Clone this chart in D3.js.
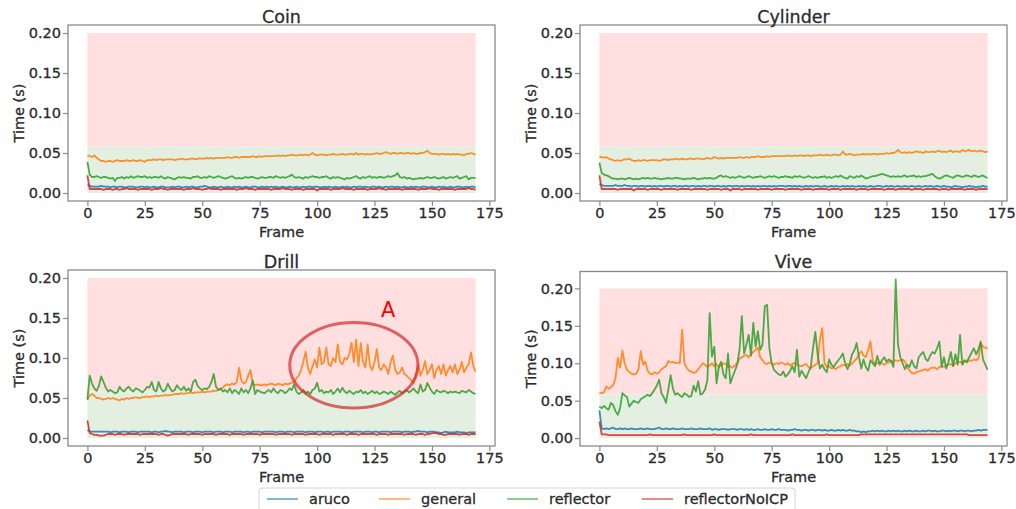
<!DOCTYPE html>
<html><head><meta charset="utf-8">
<script src="https://cdn.jsdelivr.net/npm/d3@7"></script>
<style>body{margin:0;background:#fff}svg{display:block}text{font-family:"DejaVu Sans",sans-serif;fill:#2b2b2b;stroke:#2b2b2b;stroke-width:0.3px}</style>
</head><body><svg id="c" width="1016" height="509"></svg>
<script>
const seriesNames = ["aruco","general","reflector","reflectorNoICP"];
const seriesColors = ["#1f77b4","#ff7f0e","#2ca02c","#d62728"];
const panelTitles = ["Coin","Cylinder","Drill","Vive"];
const xTickValues = [0,25,50,75,100,125,150,175];
const yTickValues = [0,0.05,0.1,0.15,0.2];
const yTickLabels = ["0.00","0.05","0.10","0.15","0.20"];
const okBand = [0, 0.058];
const slowBand = [0.058, 0.2];
const bandFrames = [0, 169];
const xLabel = "Frame", yLabel = "Time (s)";
// all series values in milliseconds, one per frame (0..169)
const coinAruco = [10,9,8,8,8,8,9,8,8,8, 7,8,8,7,8,8,7,7,8,8, 8,7,7,8,8,7,8,7,7,8, 7,7,8,8,7,7,7,8,7,8, 8,7,7,8,7,8,8,7,7,8, 8,9,8,7,7,8,7,7,8,7, 7,8,7,7,8,7,8,7,7,8, 7,7,8,8,7,7,8,7,8,7, 8,7,8,7,7,8,7,7,8,7, 7,8,7,7,8,7,8,8,7,8, 8,7,7,8,7,8,7,7,8,7, 7,8,7,8,7,7,8,7,8,8, 7,8,7,7,8,8,7,8,7,7, 8,7,8,8,7,8,7,7,8,7, 7,8,7,8,7,7,8,8,7,7, 8,7,7,8,7,8,7,7,8,7, 7,8,8,7,7,8,7,8,8,7];
const coinGeneral = [47,46,45,47,44,42,40,40,39,40, 40,39,40,41,40,40,40,41,40,40, 41,40,40,41,40,39,41,41,41,42, 41,42,42,41,42,42,42,42,41,42, 42,43,42,42,42,43,43,42,43,43, 43,43,44,43,44,43,44,44,44,44, 44,45,44,44,45,45,44,45,45,45, 45,45,46,45,45,46,45,46,46,46, 46,46,46,47,46,47,46,47,47,48, 47,47,47,48,47,48,47,48,50,48, 47,48,48,48,47,48,48,49,48,48, 48,49,48,48,49,49,48,50,48,49, 49,48,49,48,49,49,50,49,49,50, 51,50,49,50,50,49,50,50,49,50, 50,49,50,49,49,50,50,51,53,50, 49,49,49,48,49,49,48,49,48,49, 48,49,48,48,47,49,49,50,49,48];
const coinReflector = [39,23,20,20,21,20,19,20,20,19, 18,19,15,19,19,20,18,20,19,21, 19,20,21,20,20,21,19,20,19,20, 20,19,21,19,18,20,19,18,17,19, 20,19,20,19,19,18,20,20,21,19, 19,20,19,21,20,19,20,21,20,19, 18,19,20,21,19,18,19,18,19,20, 19,20,20,19,18,19,20,19,19,20, 20,19,21,20,19,20,19,20,21,23, 20,19,20,19,18,20,19,20,21,20, 20,19,20,20,21,19,18,20,19,20, 19,18,17,19,18,19,20,21,19,18, 20,19,20,21,19,20,19,20,20,19, 20,21,20,21,22,25,20,19,20,18, 19,18,17,18,18,19,18,19,20,19, 19,20,19,18,19,20,18,19,20,19, 20,21,18,19,20,21,17,19,19,19];
const coinNoICP = [22,5,5,5,5,5,5,4,5,5, 5,4,5,5,4,5,5,6,5,5, 5,5,4,5,5,5,5,5,4,5, 5,5,6,5,5,4,5,5,5,5, 5,5,4,5,5,5,6,5,5,5, 4,5,5,6,5,5,5,5,4,5, 5,5,5,5,5,4,5,5,5,6, 5,5,5,4,5,5,5,5,5,5, 4,5,5,5,5,6,5,5,5,4, 5,5,5,5,4,5,5,5,5,5, 3,5,5,5,5,5,4,5,5,5, 5,6,5,5,5,5,4,5,5,5, 5,5,4,5,5,5,5,6,5,5, 4,5,5,5,5,5,5,4,5,5, 5,5,5,5,4,5,5,5,5,6, 5,5,5,4,5,5,5,5,5,5, 4,5,5,5,5,5,6,5,5,4];
const cylAruco = [11,10,9,9,9,9,9,10,9,9, 9,10,9,9,8,9,9,8,9,9, 8,9,9,8,9,8,9,9,8,9, 9,8,9,9,8,9,8,9,9,8, 9,9,8,9,8,9,9,8,9,9, 8,9,9,8,9,8,9,9,8,9, 9,8,9,8,9,9,8,9,8,9, 8,9,9,8,9,8,9,8,9,9, 9,8,9,9,8,9,8,9,8,8, 9,8,9,8,9,9,8,8,9,8, 8,9,8,9,8,8,9,8,9,8, 9,8,8,9,8,9,8,8,9,8, 8,9,9,8,8,9,8,9,8,8, 9,8,8,9,8,8,9,8,8,9, 8,8,9,8,9,8,8,9,8,8, 9,8,8,7,8,9,8,8,7,8, 8,9,8,8,7,8,8,9,8,8];
const cylGeneral = [45,45,44,45,43,42,41,40,41,40, 41,42,42,43,41,40,40,41,40,41, 41,40,41,41,41,41,40,41,42,42, 41,42,42,43,42,42,43,42,42,43, 43,42,43,43,43,42,43,44,43,43, 45,44,43,44,43,44,44,44,44,44, 44,45,44,44,45,44,45,45,45,46, 45,45,45,46,45,46,46,46,46,46, 46,46,47,46,46,47,46,47,47,46, 47,47,46,47,47,47,48,47,47,48, 47,47,48,48,47,48,52,48,48,49, 48,47,48,48,48,49,48,49,48,49, 49,48,49,49,49,50,49,50,50,51, 54,51,50,51,50,51,50,51,52,51, 51,50,52,51,51,52,51,52,53,51, 52,51,52,53,51,52,52,51,54,52, 53,54,52,53,52,52,53,52,51,52];
const cylReflector = [38,25,23,22,21,19,18,18,17,18, 18,17,18,19,18,17,18,17,18,19, 18,19,18,18,19,18,18,17,18,18, 19,18,18,19,19,18,18,17,18,18, 18,19,18,17,18,18,19,18,19,18, 18,19,21,22,20,21,20,19,20,19, 20,21,20,19,20,21,20,19,20,20, 21,20,19,20,21,20,21,20,19,20, 20,21,20,20,19,21,20,21,20,19, 20,21,20,19,20,19,20,20,21,19, 20,19,20,21,20,22,20,19,18,21, 20,19,21,20,22,20,18,19,20,21, 21,22,23,24,23,22,21,20,21,20, 21,20,21,22,20,21,21,22,20,21, 20,21,21,22,23,24,21,19,18,19, 21,22,21,20,19,21,22,21,20,21, 22,21,20,22,21,20,21,22,20,19];
const cylNoICP = [22,5,5,5,5,5,5,5,4,5, 5,5,5,5,5,3,5,5,5,5, 5,4,5,5,5,5,5,4,5,5, 5,5,5,5,4,5,5,5,5,5, 4,5,5,5,5,5,5,4,5,5, 5,5,5,4,5,5,5,3,5,5, 5,5,4,5,5,5,5,5,5,4, 5,5,5,5,5,4,5,5,5,5, 5,4,5,5,5,5,5,5,4,5, 5,5,5,4,5,5,5,5,5,5, 4,5,5,5,5,4,5,5,5,5, 5,5,4,5,5,5,5,4,5,5, 5,5,5,5,4,5,5,5,5,4, 5,5,5,5,5,5,4,5,5,5, 5,4,5,5,5,5,5,5,4,5, 5,5,4,5,5,5,5,5,5,4, 5,5,5,5,4,5,5,5,5,5];
const drillAruco = [10,8,8,8,8,8,8,8,8,8, 7,8,8,8,7,8,8,8,7,8, 8,8,7,8,8,8,8,8,7,8, 8,7,8,8,9,8,8,7,8,8, 8,8,7,8,8,8,7,8,8,8, 7,8,8,8,8,7,8,8,8,7, 8,8,8,7,8,8,8,8,7,8, 8,7,8,8,8,8,7,8,8,8, 8,8,7,8,8,8,7,8,8,8, 7,8,8,8,8,7,8,8,8,7, 8,8,8,7,8,8,7,8,8,8, 8,7,8,8,8,7,8,8,8,8, 7,8,8,8,7,8,8,7,8,8, 8,8,7,8,8,8,8,7,8,8, 8,7,8,8,9,8,8,8,7,8, 8,8,7,7,6,7,8,7,7,7, 7,8,7,7,7,6,7,7,7,7];
const drillGeneral = [48,53,55,53,50,50,49,48,49,50, 49,50,49,48,47,49,48,50,49,50, 50,51,50,50,51,51,52,51,52,52, 53,52,53,53,54,53,54,54,55,55, 55,56,55,56,56,57,56,57,57,57, 58,57,58,58,58,59,59,60,61,63, 66,67,66,68,67,70,88,72,68,70, 78,85,68,66,67,66,66,67,66,67, 68,67,66,68,67,66,68,67,68,69, 70,75,78,85,95,108,88,80,90,98, 88,113,92,95,113,92,90,100,95,117, 95,92,100,98,105,119,95,123,90,119, 95,88,117,90,85,95,111,88,85,92, 88,80,95,103,85,80,82,88,80,78, 75,72,69,80,92,78,85,96,80,85, 92,75,85,90,80,92,78,85,90,82, 92,80,85,95,82,88,92,107,90,83];
const drillReflector = [48,78,68,62,59,65,77,70,63,58, 60,58,56,57,64,60,58,62,64,60, 58,62,61,59,57,60,64,63,70,60, 58,70,62,58,60,68,62,58,60,66, 62,60,64,59,62,58,70,73,65,62, 60,62,61,64,70,80,64,60,62,58, 60,57,62,56,60,58,55,62,57,60, 56,62,72,55,60,58,57,56,58,60, 57,62,58,56,60,59,56,58,62,60, 67,58,55,57,60,56,58,55,60,62, 69,58,60,56,58,57,60,55,58,62, 57,63,58,56,59,57,55,58,57,60, 56,58,55,57,59,56,58,55,56,58, 57,55,58,56,54,57,59,56,58,60, 57,59,62,58,56,67,58,60,69,63, 58,55,60,58,57,59,58,56,58,57, 58,57,56,59,58,57,60,58,56,55];
const drillNoICP = [22,6,5,4,4,3,3,3,4,5, 5,5,4,5,5,5,4,5,5,5, 5,5,5,4,5,5,5,5,5,5, 5,4,5,5,4,3,4,5,5,5, 5,5,5,5,4,5,5,5,5,5, 4,5,5,5,5,5,4,5,5,5, 5,5,4,5,5,5,5,5,4,5, 5,5,5,5,5,4,5,5,5,5, 5,5,4,5,5,5,5,5,5,4, 5,5,5,5,5,4,5,5,5,5, 5,4,5,5,5,5,5,4,5,5, 5,5,5,4,5,5,5,5,4,5, 5,5,5,5,5,5,4,5,5,5, 5,4,5,5,5,5,5,5,4,5, 5,5,5,4,5,5,5,4,5,5, 6,6,6,5,5,4,4,5,5,5, 5,5,4,5,5,5,4,5,5,5];
const viveAruco = [37,13,12,13,12,13,14,12,12,13, 12,13,12,12,13,12,12,12,13,12, 12,13,12,12,12,13,14,12,12,13, 12,12,13,12,12,12,13,12,12,12, 13,12,12,12,13,12,12,12,13,11, 12,12,11,12,12,12,11,12,12,12, 11,12,12,11,12,11,12,11,11,12, 11,11,12,11,11,12,11,11,12,11, 11,11,10,11,11,12,11,11,10,11, 11,10,11,11,10,11,11,10,11,10, 10,11,10,10,11,10,11,10,10,11, 10,10,9,9,8,9,8,9,9,10, 9,10,9,10,9,9,10,9,10,9, 10,9,9,10,9,10,9,9,10,9, 9,10,9,10,10,9,10,9,9,10, 10,9,10,9,10,10,9,10,10,9, 10,10,9,10,10,11,10,11,11,11];
const viveGeneral = [60,60,61,69,66,68,71,80,107,94, 117,100,91,88,86,85,86,92,116,98, 102,90,86,85,88,86,88,92,94,96, 103,101,102,100,101,100,145,100,94,90, 89,87,88,92,96,100,98,95,97,100, 96,99,95,97,100,99,95,96,94,97, 100,106,108,110,111,108,112,115,118,121, 108,104,100,99,101,100,98,100,99,101, 100,98,100,97,99,101,98,97,96,98, 99,95,93,96,98,100,132,147,100,95, 96,93,94,92,95,96,98,97,99,97, 100,103,106,112,116,110,108,118,129,104, 99,100,101,100,98,100,101,103,102,104, 103,104,105,102,95,90,87,86,88,89, 90,91,92,90,93,94,94,92,95,96, 95,97,98,99,97,100,101,102,100,103, 101,104,103,105,104,106,127,122,121,120];
const viveReflector = [42,40,43,40,38,47,44,36,31,40, 60,57,55,42,46,50,48,47,52,54, 56,58,56,60,65,70,78,60,55,47, 65,84,66,58,60,57,55,60,58,55, 56,70,62,76,58,60,65,77,167,109, 122,73,95,102,85,80,113,73,82,90, 98,118,163,113,125,138,110,154,122,143, 118,125,176,178,120,100,91,88,85,84, 89,82,85,90,96,88,118,82,90,85, 80,88,95,120,142,112,93,98,92,88, 105,98,95,100,104,108,113,100,92,100, 112,117,127,108,93,105,95,90,104,100, 96,110,98,104,108,102,105,103,95,212, 125,108,100,92,98,95,104,96,93,108, 112,115,106,103,110,115,113,120,129,95, 108,93,102,115,96,112,98,138,98,104, 102,108,114,120,112,118,129,105,98,91];
const viveNoICP = [22,5,5,5,4,4,4,4,4,4, 4,4,4,4,4,4,4,4,4,4, 4,4,5,4,4,4,4,4,4,4, 4,4,4,4,4,4,4,5,4,4, 4,4,4,4,4,4,4,4,4,4, 5,4,4,4,4,4,4,4,4,4, 4,4,4,4,4,4,5,4,4,4, 4,4,4,4,4,4,4,4,4,4, 4,4,4,4,5,4,4,4,4,4, 4,4,4,4,4,4,4,4,4,5, 4,4,4,4,4,4,4,4,4,4, 4,4,4,4,5,5,5,5,5,5, 5,5,5,5,5,5,5,5,5,5, 5,5,5,5,5,5,5,5,5,5, 5,5,5,5,5,5,5,5,5,5, 5,5,5,5,5,5,5,5,5,5, 5,4,4,4,4,4,4,4,4,4];
// annotation on Drill (data coords)
const annCenter = [116, 0.091], annRadii = [27.9, 0.0535], annLabel = "A", annLabelPos = [131, 0.151];

const panelSeries = [
  [coinAruco, coinGeneral, coinReflector, coinNoICP],
  [cylAruco, cylGeneral, cylReflector, cylNoICP],
  [drillAruco, drillGeneral, drillReflector, drillNoICP],
  [viveAruco, viveGeneral, viveReflector, viveNoICP]
];
const layout = [
  {x0:68, x1:495, y0:25, y1:201, ty:22.5},
  {x0:580, x1:1007, y0:25, y1:201, ty:22.5},
  {x0:68, x1:495, y0:270, y1:446, ty:267.5},
  {x0:580, x1:1007, y0:271.5, y1:446, ty:267.5}
];
const svg = d3.select("#c");
const fs = 14.5;
panelSeries.forEach((series, pi) => {
  const L = layout[pi];
  const n = series[0].length;
  const xmin = 0, xmax = n - 1, xm = (xmax - xmin) * 0.05;
  const x = d3.scaleLinear().domain([xmin - xm, xmax + xm]).range([L.x0, L.x1]);
  let ymax = slowBand[1], ymin = 0;
  series.forEach(s => { ymax = Math.max(ymax, d3.max(s) / 1000); ymin = Math.min(ymin, d3.min(s) / 1000); });
  const ym = (ymax - ymin) * 0.05;
  const y = d3.scaleLinear().domain([ymin - ym, ymax + ym]).range([L.y1, L.y0]);
  const g = svg.append("g");
  g.append("rect").attr("x", x(bandFrames[0])).attr("width", x(bandFrames[1]) - x(bandFrames[0]))
    .attr("y", y(slowBand[1])).attr("height", y(slowBand[0]) - y(slowBand[1])).attr("fill", "#ffdfe0");
  g.append("rect").attr("x", x(bandFrames[0])).attr("width", x(bandFrames[1]) - x(bandFrames[0]))
    .attr("y", y(okBand[1])).attr("height", y(okBand[0]) - y(okBand[1])).attr("fill", "#e3f0e1");
  const line = d3.line().x((d, i) => x(i)).y(d => y(d / 1000));
  series.forEach((s, si) => {
    g.append("path").datum(s).attr("d", line).attr("fill", "none")
      .attr("stroke", seriesColors[si]).attr("stroke-width", 1.8).attr("stroke-opacity", 0.85)
      .attr("stroke-linejoin", "round");
  });
  g.append("rect").attr("x", L.x0).attr("y", L.y0).attr("width", L.x1 - L.x0).attr("height", L.y1 - L.y0)
    .attr("fill", "none").attr("stroke", "#8a8a8a").attr("stroke-width", 1.3);
  const ax = g.append("g").attr("transform", `translate(0,${L.y1})`)
    .call(d3.axisBottom(x).tickValues(xTickValues).tickSize(5).tickPadding(2).tickFormat(d3.format("d")));
  const ay = g.append("g").attr("transform", `translate(${L.x0},0)`)
    .call(d3.axisLeft(y).tickValues(yTickValues).tickSize(5).tickPadding(2).tickFormat((d, i) => yTickLabels[i]));
  [ax, ay].forEach(a => {
    a.select(".domain").remove();
    a.selectAll(".tick line").attr("stroke", "#8a8a8a").attr("stroke-width", 1.2);
    a.selectAll(".tick text").attr("font-size", fs).attr("font-family", "DejaVu Sans");
  });
  const cx = (L.x0 + L.x1) / 2;
  g.append("text").attr("x", cx).attr("y", L.ty).attr("text-anchor", "middle").attr("font-size", 17.5).text(panelTitles[pi]);
  g.append("text").attr("x", cx).attr("y", L.y1 + 35.5).attr("text-anchor", "middle").attr("font-size", fs).text(xLabel);
  g.append("text").attr("transform", `translate(${L.x0 - 44},${(L.y0 + L.y1) / 2}) rotate(-90)`)
    .attr("text-anchor", "middle").attr("font-size", fs).text(yLabel);
  if (pi === 2) {
    const cxA = x(annCenter[0]), cyA = y(annCenter[1]);
    g.append("ellipse").attr("cx", cxA).attr("cy", cyA)
      .attr("rx", x(annCenter[0] + annRadii[0]) - cxA).attr("ry", cyA - y(annCenter[1] + annRadii[1]))
      .attr("fill", "none").attr("stroke", "#d62728").attr("stroke-opacity", 0.7).attr("stroke-width", 3);
    g.append("text").attr("x", x(annLabelPos[0])).attr("y", y(annLabelPos[1])).attr("text-anchor", "middle")
      .attr("font-size", 21).style("fill", "#ff0000").style("stroke", "none").text(annLabel);
  }
});
const lg = svg.append("g");
lg.append("rect").attr("x", 259).attr("y", 488).attr("width", 536).attr("height", 28).attr("rx", 3)
  .attr("fill", "#fff").attr("stroke", "#d4d4d4").attr("stroke-width", 1);
const legX = [267, 379, 507, 642];
seriesNames.forEach((nm, i) => {
  lg.append("line").attr("x1", legX[i]).attr("x2", legX[i] + 31).attr("y1", 499).attr("y2", 499)
    .attr("stroke", seriesColors[i]).attr("stroke-width", 1.8).attr("stroke-opacity", 0.6);
  lg.append("text").attr("x", legX[i] + 42).attr("y", 499).attr("dy", "0.35em").attr("font-size", fs).text(nm);
});
</script></body></html>
